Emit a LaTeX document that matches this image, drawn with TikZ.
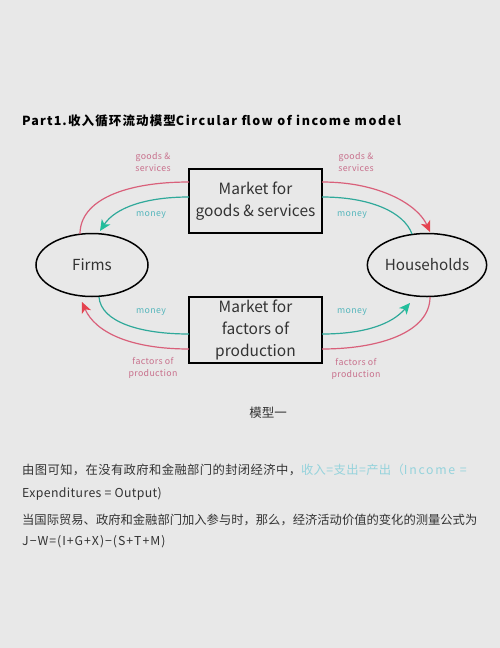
\documentclass[tikz,border=0pt]{standalone}
\usepackage{fontspec}
\setmainfont{Noto Sans CJK SC}
\usetikzlibrary{arrows.meta,shapes.geometric}
\definecolor{bg}{HTML}{E8E8E8}
\definecolor{pinkl}{HTML}{D9607A}
\definecolor{pinkt}{HTML}{E5434F}
\definecolor{tealc}{HTML}{2FA99A}
\definecolor{tealt}{HTML}{22BE9C}
\definecolor{pinklab}{HTML}{C8708C}
\definecolor{teallab}{HTML}{55B6BC}
\definecolor{txt}{HTML}{333333}
\definecolor{hl}{HTML}{95D3DC}
\tikzset{
  agent/.style={ellipse,draw=black,line width=1.5pt,minimum width=112pt,minimum height=63pt,inner sep=0pt,font=\fontsize{15.2}{16}\selectfont,text=txt},
  market/.style={rectangle,draw=black,line width=1.4pt,minimum width=133pt,inner sep=0pt,align=center,font=\fontsize{15.5}{22}\selectfont,text=txt},
  pflow/.style={draw=pinkl,line width=1.2pt},
  tflow/.style={draw=tealc,line width=1.2pt},
  ptip/.style={-{Stealth[length=11pt,width=10pt,inset=3pt,color=pinkt]}},
  ttip/.style={-{Stealth[length=11pt,width=10pt,inset=3pt,color=tealt]}},
  plab/.style={text=pinklab,align=center,font=\fontsize{8.8}{12}\selectfont\addfontfeatures{LetterSpace=4}},
  tlab/.style={text=teallab,font=\fontsize{8.8}{10}\selectfont\addfontfeatures{LetterSpace=4}},
  para/.style={anchor=base west,inner sep=0pt,text=txt,font=\fontsize{12.3}{14}\selectfont}
}
\begin{document}
\begin{tikzpicture}[x=1pt,y=-1pt]
\fill[bg] (0,0) rectangle (500,648);
\useasboundingbox (0,0) rectangle (500,648);
\node[anchor=base west,inner sep=0pt,text=black,font=\bfseries\fontsize{12.5}{14}\selectfont\addfontfeatures{LetterSpace=9}] (title) at (22,125) {Part1.收入循环流动模型{\addfontfeatures{LetterSpace=12.5}Circular flow of income model}};

\node[agent] (firms) at (92,265) {Firms};
\node[agent] (hh) at (427,265) {Households};
\node[market,minimum height=64pt] (gm) at (255.5,201) {Market for\\goods \& services};
\node[market,minimum height=66pt] (fm) at (255.5,330) {Market for\\factors of\\production};

\coordinate (gmL1) at (189,182); \coordinate (gmL2) at (189,197);
\coordinate (gmR1) at (322,182); \coordinate (gmR2) at (322,197);
\coordinate (fmL1) at (189,334); \coordinate (fmL2) at (189,349);
\coordinate (fmR1) at (322,334); \coordinate (fmR2) at (322,349);
\coordinate (fTop1) at (80,234); \coordinate (fTop2) at (100,231);
\coordinate (fBot1) at (99,297); \coordinate (fBot2) at (82,302);
\coordinate (hTop1) at (430,232); \coordinate (hTop2) at (412,234);
\coordinate (hBot1) at (410,303); \coordinate (hBot2) at (430,297);

% goods & services flow (pink, top)
\draw[pflow] (gmL1) .. controls (125,182) and (80,200) .. (fTop1);
\draw[pflow,ptip] (gmR1) .. controls (380,182) and (418,205) .. (hTop1);
% money flow (teal, top)
\draw[tflow,ttip] (gmL2) .. controls (145,197) and (115,208) .. (fTop2);
\draw[tflow] (hTop2) .. controls (404,212) and (370,197) .. (gmR2);
% money flow (teal, bottom)
\draw[tflow] (fBot1) .. controls (101,322) and (140,334) .. (fmL1);
\draw[tflow,ttip] (fmR1) .. controls (365,334) and (392,324) .. (hBot1);
% factors of production flow (pink, bottom)
\draw[pflow,ptip] (fmL2) .. controls (130,349) and (95,332) .. (fBot2);
\draw[pflow] (hBot2) .. controls (430,332) and (380,349) .. (fmR2);

\node[plab] (l1) at (153,162) {goods \&\\services};
\node[plab] (l2) at (356,162) {goods \&\\services};
\node[tlab] (l3) at (151,215) {money};
\node[tlab] (l4) at (352,215) {money};
\node[tlab] (l5) at (151,312) {money};
\node[tlab] (l6) at (352,312) {money};
\node[plab] (l7) at (153,368) {factors of\\production};
\node[plab] (l8) at (356,369) {factors of\\production};

\node[text=txt,font=\fontsize{12.5}{14}\selectfont] (cap) at (268,413) {模型一};

\node[para] (p1) at (22,474) {\addfontfeatures{LetterSpace=3.2}由图可知，在没有政府和金融部门的封闭经济中，\textcolor{hl}{收入=支出=产出（\addfontfeatures{LetterSpace=14}Income =}};
\node[para] (p2) at (22,497) {\addfontfeatures{LetterSpace=3}Expenditures = Output)};
\node[para] (p3) at (22,524) {当国际贸易、政府和金融部门加入参与时，那么，经济活动价值的变化的测量公式为};
\node[para] (p4) at (22,545) {\addfontfeatures{LetterSpace=8}J−W=(I+G+X)−(S+T+M)};
\end{tikzpicture}
\end{document}
